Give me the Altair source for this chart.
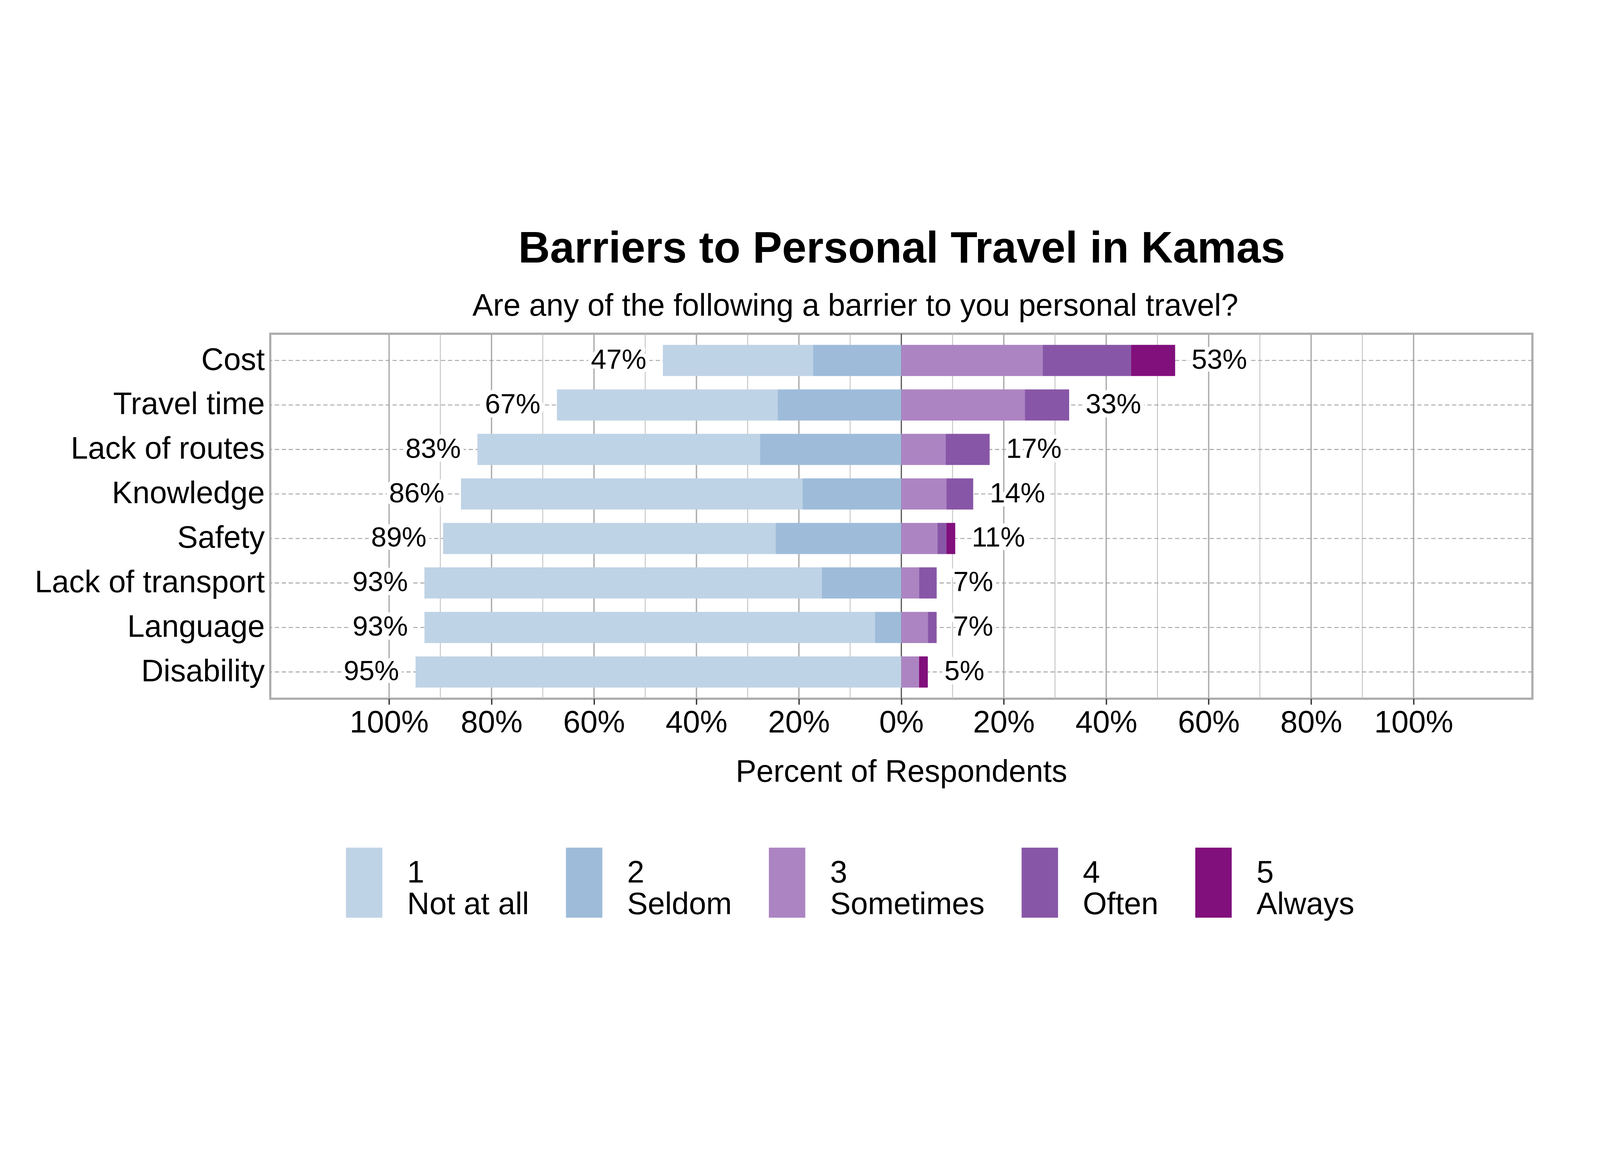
import pandas as pd
import altair as alt

# survey items, top to bottom
items = ["Cost", "Travel time", "Lack of routes", "Knowledge", "Safety",
         "Lack of transport", "Language", "Disability"]

levels = ["Not at all", "Seldom", "Sometimes", "Often", "Always"]
level_colors = ["#BFD3E6", "#9EBCDA", "#AC84C2", "#8856A7", "#810F7C"]

# percent of respondents per answer
not_at_all = [29.31, 43.10, 55.17, 66.67, 64.91, 77.59, 87.93, 94.83]
seldom     = [17.24, 24.14, 27.59, 19.30, 24.56, 15.52, 5.17, 0.0]
sometimes  = [27.59, 24.14, 8.62, 8.77, 7.02, 3.45, 5.17, 3.45]
often      = [17.24, 8.62, 8.62, 5.26, 1.75, 3.45, 1.72, 0.0]
always     = [8.62, 0.0, 0.0, 0.0, 1.75, 0.0, 0.0, 1.72]

major_ticks = [-100, -80, -60, -40, -20, 0, 20, 40, 60, 80, 100]
minor_ticks = [-90, -70, -50, -30, -10, 10, 30, 50, 70, 90]

title_text = "Barriers to Personal Travel in Kamas"
subtitle_text = "Are any of the following a barrier to you personal travel?"

FONT = "Liberation Sans"
W, H = 4739, 1370
# space around the plot area (page is 6000x3000 with 8px margin)
PAD_L, PAD_T, PAD_R, PAD_B = 1003, 545, 242, 1069

# build stacked segments: low answers go left of zero, high answers right
rows = []
for i, item in enumerate(items):
    left = -(not_at_all[i] + seldom[i])
    for lev, v in [("Not at all", not_at_all[i]), ("Seldom", seldom[i])]:
        if v > 0:
            rows.append(dict(item=item, level=lev, x0=left, x1=left + v))
        left += v
    right = 0.0
    for lev, v in [("Sometimes", sometimes[i]), ("Often", often[i]), ("Always", always[i])]:
        if v > 0:
            rows.append(dict(item=item, level=lev, x0=right, x1=right + v))
        right += v
bars = pd.DataFrame(rows)

neg_tot = [a + b for a, b in zip(not_at_all, seldom)]
pos_tot = [a + b + c for a, b, c in zip(sometimes, often, always)]
lab_left = pd.DataFrame({"item": items, "x": [-t for t in neg_tot],
                         "txt": [f"{round(t)}%" for t in neg_tot]})
lab_right = pd.DataFrame({"item": items, "x": pos_tot,
                          "txt": [f"{round(t)}%" for t in pos_tot]})

xscale = alt.Scale(domain=[-123.2, 123.2], nice=False, zero=False)
yscale = alt.Scale(domain=items, paddingInner=0.3, paddingOuter=0.25)

x_axis = alt.Axis(values=major_ticks, labelExpr="abs(datum.value) + '%'",
                  grid=False, domain=False, tickColor="#333333", tickSize=22,
                  tickWidth=5, labelFontSize=116, labelPadding=12, labelColor="black",
                  labelFont=FONT, labelFlush=False, labelLimit=0, labelOverlap=False,
                  title="Percent of Respondents", titleFontSize=116,
                  titleFont=FONT, titleFontWeight="normal", titleColor="black",
                  titlePadding=70)
y_axis = alt.Axis(title=None, domain=False, ticks=False, grid=False,
                  labelFontSize=116, labelFont=FONT, labelColor="black",
                  labelPadding=21, labelLimit=0)


def X(field):
    return alt.X(field, scale=xscale, axis=x_axis)


def Y(field):
    return alt.Y(field, scale=yscale, axis=y_axis, sort=items)


# invisible frame that pins the canvas to the page size
frame = alt.Chart(pd.DataFrame({"f": [0]})).mark_rect(opacity=0).encode(
    x=alt.value(-PAD_L), x2=alt.value(W + PAD_R),
    y=alt.value(-PAD_T), y2=alt.value(H + PAD_B))

# grid lines
minor = alt.Chart(pd.DataFrame({"v": minor_ticks})).mark_rule(
    color="#BDBDBD", strokeWidth=3).encode(x=X("v:Q"))
major = alt.Chart(pd.DataFrame({"v": major_ticks})).mark_rule(
    color="#ABABAB", strokeWidth=5).encode(x=X("v:Q"))
hgrid = alt.Chart(pd.DataFrame({"item": items})).mark_rule(
    color="#A3A3A3", strokeWidth=3.5, strokeDash=[16, 10]).encode(y=Y("item:N"))
zero = alt.Chart(pd.DataFrame({"v": [0]})).mark_rule(
    color="#555555", strokeWidth=4).encode(x=X("v:Q"))

legend_expr = "[toString(indexof(['" + "','".join(levels) + "'], datum.label) + 1), datum.label]"

bar_layer = alt.Chart(bars).mark_bar().encode(
    y=Y("item:N"),
    x=X("x0:Q"),
    x2="x1:Q",
    color=alt.Color("level:N",
                    scale=alt.Scale(domain=levels, range=level_colors),
                    legend=alt.Legend(orient="none", legendX=221, legendY=1929,
                                      direction="horizontal", columns=5,
                                      title=None, padding=0,
                                      symbolType="M-0.52,-1H0.52V1H-0.52Z",
                                      symbolSize=69169, symbolStrokeWidth=0,
                                      symbolOpacity=1,
                                      labelFontSize=116, labelFont=FONT,
                                      labelColor="black", labelOffset=30,
                                      labelBaseline="alphabetic",
                                      labelLimit=0, columnPadding=75,
                                      labelExpr=legend_expr)),
)


def pct_labels(df, align, dx):
    base = alt.Chart(df).encode(y=Y("item:N"), x=X("x:Q"), text="txt:N")
    halo = base.mark_text(align=align, dx=dx, fontSize=104, font=FONT,
                          color="white", stroke="white", strokeWidth=30,
                          strokeJoin="round")
    txt = base.mark_text(align=align, dx=dx, fontSize=104, font=FONT, color="black")
    return halo + txt


title = alt.Chart(pd.DataFrame({"t": [title_text]})).mark_text(
    fontSize=165, font=FONT, fontWeight="bold", color="black",
    align="center", baseline="alphabetic").encode(
    x=alt.value(2371), y=alt.value(-268), text="t:N")
subtitle = alt.Chart(pd.DataFrame({"t": [subtitle_text]})).mark_text(
    fontSize=116, font=FONT, color="black",
    align="center", baseline="alphabetic").encode(
    x=alt.value(2197), y=alt.value(-68), text="t:N")

chart = alt.layer(
    frame, minor, major, hgrid, zero, bar_layer,
    pct_labels(lab_left, "right", -62),
    pct_labels(lab_right, "left", 62),
    title, subtitle,
).properties(
    width=W, height=H,
    padding=0,
    background="white",
).configure_view(
    stroke="#ABABAB", strokeWidth=8
)

chart.save("out.html", embed_options={"renderer": "svg", "actions": False})
